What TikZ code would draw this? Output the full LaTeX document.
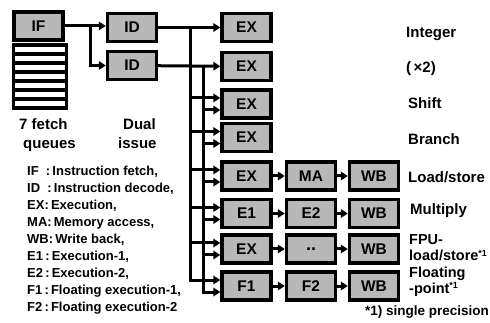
\documentclass[tikz,border=0pt]{standalone}
\usepackage{fontspec}
\setmainfont{Liberation Sans}
\usetikzlibrary{arrows.meta}
\begin{document}
\begin{tikzpicture}[x=1pt,y=-1pt,
  stage/.style={draw=black, line width=3.4pt, fill=black!28, minimum width=49pt, minimum height=28pt, inner sep=0pt, font=\fontsize{15.5}{15.5}\selectfont\bfseries},
  wire/.style={line width=3pt},
  arr/.style={wire, -{Triangle[length=7pt,width=8.5pt]}},
  lbl/.style={anchor=base west, inner sep=0pt, font=\fontsize{15}{15}\selectfont\bfseries},
  slbl/.style={anchor=base west, inner sep=0pt, font=\fontsize{14.5}{14.5}\selectfont\bfseries},
  leg/.style={anchor=base west, inner sep=0pt, font=\fontsize{13}{13}\selectfont\bfseries}]
\useasboundingbox (0,0) rectangle (490,323);
% fetch queues
\fill[black] (12,43) rectangle (68,110);
\foreach \i in {0,...,6} \fill[white] (15,47.5+9*\i) rectangle (65,52+9*\i);
% stages
\node[stage] (if)  at (38.5,26)  {IF};
\node[stage] (id1) at (132,27.5) {ID};
\node[stage] (id2) at (132,65.5) {ID};
\node[stage] (ex1) at (246.5,27.5) {EX};
\node[stage] (ex2) at (246.5,66.5) {EX};
\node[stage] (ex3) at (246.5,104) {EX};
\node[stage] (ex4) at (246.5,137.5) {EX};
\node[stage] (ex5) at (246.5,176) {EX};
\node[stage] (ma)  at (311,176) {MA};
\node[stage] (wb5) at (374,176) {WB};
\node[stage] (e1)  at (246.5,213.5) {E1};
\node[stage] (e2)  at (311,213.5) {E2};
\node[stage] (wb6) at (374,213.5) {WB};
\node[stage] (ex7) at (246.5,249) {EX};
\node[stage, font=\fontsize{18}{18}\selectfont\bfseries] (dd)  at (311,249) {\smash{\raisebox{-1.8pt}{..}}};
\node[stage] (wb7) at (374,249) {WB};
\node[stage] (f1)  at (246.5,286) {F1};
\node[stage] (f2)  at (311,286) {F2};
\node[stage] (wb8) at (374,286) {WB};
% connectors
\coordinate (s) at (90,26);
\draw[arr] (if.east) -- (if.east -| id1.west);
\draw[arr] (s) |- (id2.west);
\draw[arr] (id1) -- (ex1);
\draw[arr] (id2) -- (ex2);
\coordinate (b1) at (190,27.5);
\coordinate (b2) at (203,66.5);
\draw[arr] (b1) |- ([yshift=6pt]f1.west);
\draw[arr] (b2) |- ([yshift=-6pt]f1.west);
\foreach \n in {ex3,ex4,ex5,e1,ex7}{
  \draw[arr] ([yshift=6pt]\n.west -| b1) -- ([yshift=6pt]\n.west);
  \draw[arr] ([yshift=-6pt]\n.west -| b2) -- ([yshift=-6pt]\n.west);
}
\draw[arr] (ex5) -- (ma);
\draw[arr] (ma) -- (wb5);
\draw[arr] (e1) -- (e2);
\draw[arr] (e2) -- (wb6);
\draw[arr] (ex7) -- (dd);
\draw[arr] (dd) -- (wb7);
\draw[arr] (f1) -- (f2);
\draw[arr] (f2) -- (wb8);
% right labels
\node[lbl] (t1) at (406,38) {Integer};
\node[lbl] (t2) at (406,73) {(\,×2)};
\node[lbl] (t3) at (408,109) {Shift};
\node[lbl] (t4) at (408,145) {Branch};
\node[lbl] (t5) at (408,183) {Load/store};
\node[lbl] (t6) at (410,215) {Multiply};
\node[slbl] (t7) at (409,244.5) {FPU-};
\node[slbl] (t8) at (409,260.5) {load/store{\fontsize{9}{9}\selectfont\raisebox{4.5pt}{*1}}};
\node[slbl] (t9) at (409,277.5) {Floating};
\node[slbl] (t10) at (409,293) {-point{\fontsize{9}{9}\selectfont\raisebox{4.5pt}{*1}}};
\node[leg, font=\fontsize{13.5}{13.5}\selectfont\bfseries] (note) at (365,315.5) {*1) single precision};
% left labels
\node[lbl] (q1) at (19,129.5) {7 fetch};
\node[lbl] (q2) at (23,149) {queues};
\node[lbl] (d1) at (123,129.5) {Dual};
\node[lbl] (d2) at (118,149) {issue};
\node[leg] (l1) at (27,176) {IF\ \ :\,Instruction fetch,};
\node[leg] (l2) at (27,192.9) {ID\ \ :\,Instruction decode,};
\node[leg] (l3) at (27,209.8) {EX:\,Execution,};
\node[leg] (l4) at (27,226.7) {MA:\,Memory access,};
\node[leg] (l5) at (27,243.6) {WB:\,Write back,};
\node[leg] (l6) at (27,260.5) {E1\,:\,Execution-1,};
\node[leg] (l7) at (27,277.4) {E2\,:\,Execution-2,};
\node[leg] (l8) at (27,294.3) {F1\,:\,Floating execution-1,};
\node[leg] (l9) at (27,311.2) {F2\,:\,Floating execution-2};
\end{tikzpicture}
\end{document}
